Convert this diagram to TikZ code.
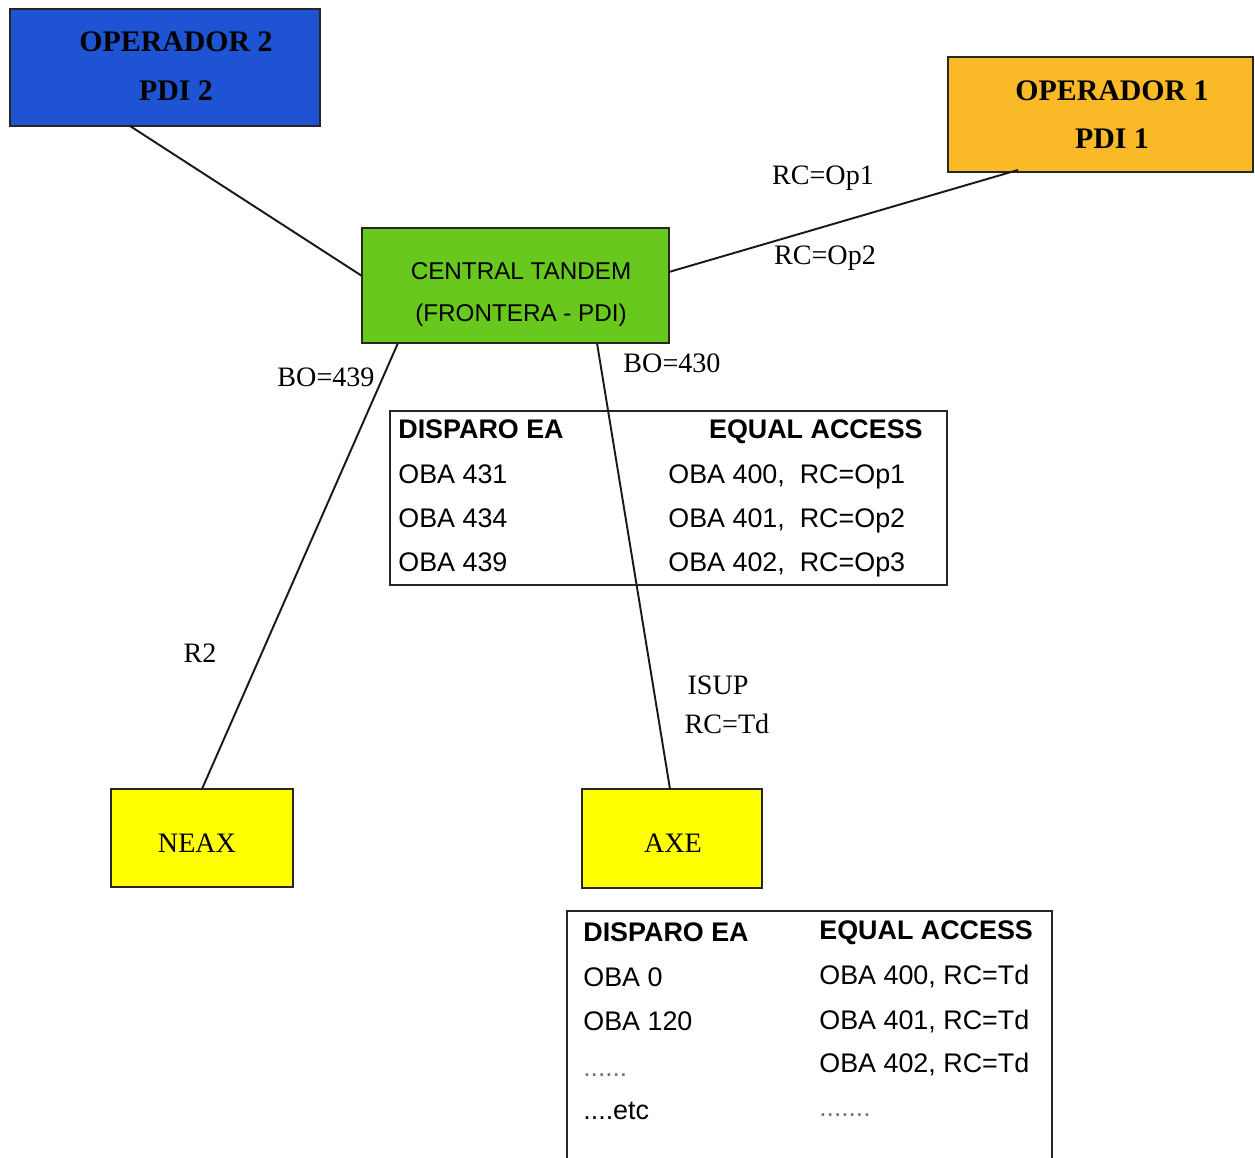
\documentclass[tikz,border=0pt]{standalone}
\usepackage{fontspec}
\setmainfont{Liberation Serif}
\setsansfont{Liberation Sans}
\definecolor{opblue}{RGB}{30,84,212}
\definecolor{oporange}{RGB}{250,186,40}
\definecolor{tgreen}{RGB}{104,200,30}
\definecolor{nyellow}{RGB}{255,255,0}
\begin{document}
\begin{tikzpicture}[x=0.02cm,y=-0.02cm,
  boxed/.style={draw=black!85,line width=1.4pt,inner sep=0pt},
  conn/.style={draw=black!90,line width=1.1pt},
  hdr/.style={font=\fontsize{17}{20}\selectfont\bfseries,anchor=base,inner sep=0pt},
  tnd/.style={font=\sffamily\fontsize{13.8}{16}\selectfont,anchor=base,inner sep=0pt},
  lbl/.style={font=\fontsize{16}{19}\selectfont,anchor=base,inner sep=0pt},
  cell/.style={font=\sffamily\fontsize{15.3}{18}\selectfont,anchor=base west,inner sep=0pt},
  cellb/.style={font=\sffamily\bfseries\fontsize{15.3}{18}\selectfont,anchor=base west,inner sep=0pt},
  dots/.style={font=\sffamily\fontsize{15}{18}\selectfont,text=black!55,anchor=base west,inner sep=0pt}]
\useasboundingbox (0,0) rectangle (1255,1158);
\fill[white] (0,0) rectangle (1255,1158);
% boxes
\node[boxed,fill=opblue,minimum width=310*0.02cm,minimum height=117*0.02cm] (op2) at (165,67.5) {};
\node[boxed,fill=oporange,minimum width=305*0.02cm,minimum height=115*0.02cm] (op1) at (1100.5,114.5) {};
\node[boxed,fill=tgreen,minimum width=307*0.02cm,minimum height=115*0.02cm] (tandem) at (515.5,285.5) {};
\node[boxed,fill=nyellow,minimum width=182*0.02cm,minimum height=98*0.02cm] (neax) at (202,838) {};
\node[boxed,fill=nyellow,minimum width=180*0.02cm,minimum height=99*0.02cm] (axe) at (672,838.5) {};
\node[boxed,minimum width=557*0.02cm,minimum height=174*0.02cm] (tab1) at (668.5,498) {};
\node[boxed,minimum width=485*0.02cm,minimum height=250*0.02cm] (tab2) at (809.5,1036) {};
% box texts
\node[hdr] (op2a) at (176,52) {OPERADOR 2};
\node[hdr] (op2b) at (176,101) {PDI 2};
\node[hdr] (op1a) at (1112,101) {OPERADOR 1};
\node[hdr] (op1b) at (1112,149) {PDI 1};
\node[tnd] (tda) at (521,280) {CENTRAL TANDEM};
\node[tnd] (tdb) at (521,322) {(FRONTERA - PDI)};
\node[lbl] (neaxt) at (197,852) {NEAX};
\node[lbl] (axet) at (673,852) {AXE};
% connectors
\coordinate (p2) at (130,126);
\coordinate (t2) at (362,276);
\coordinate (p1) at (1018,170);
\coordinate (t1) at (669,272);
\coordinate (tn) at (398,343);
\coordinate (nt) at (202,789);
\coordinate (ta) at (597,343);
\coordinate (at) at (670,789);
\draw[conn] (p2) -- (t2);
\draw[conn] (p1) -- (t1);
\draw[conn] (tn) -- (nt);
\draw[conn] (ta) -- (at);
% connector labels
\node[lbl] (l1) at (823,185) {RC=Op1};
\node[lbl] (l2) at (825,265) {RC=Op2};
\node[lbl] (l3) at (326,387) {BO=439};
\node[lbl] (l4) at (672,373) {BO=430};
\node[lbl] (l5) at (200,663) {R2};
\node[lbl] (l6) at (718,695) {ISUP};
\node[lbl] (l7) at (727,734) {RC=Td};
% table 1
\node[cellb] (a0) at (398,439) {DISPARO EA};
\node[cellb,anchor=base east] (a1) at (923,439) {EQUAL ACCESS};
\node[cell] (a2) at (398,484) {OBA 431};
\node[cell] (a3) at (398,528) {OBA 434};
\node[cell] (a4) at (398,572) {OBA 439};
\node[cell] (a5) at (668,484) {OBA 400,\ \ RC=Op1};
\node[cell] (a6) at (668,528) {OBA 401,\ \ RC=Op2};
\node[cell] (a7) at (668,572) {OBA 402,\ \ RC=Op3};
% table 2
\node[cellb] (b0) at (583,941) {DISPARO EA};
\node[cellb] (b1) at (819,939) {EQUAL ACCESS};
\node[cell] (b2) at (583,986) {OBA 0};
\node[cell] (b3) at (583,1030) {OBA 120};
\node[dots] (b4) at (583,1076) {......};
\node[cell] (b5) at (583,1119) {....etc};
\node[cell] (b6) at (819,984) {OBA 400, RC=Td};
\node[cell] (b7) at (819,1029) {OBA 401, RC=Td};
\node[cell] (b8) at (819,1072) {OBA 402, RC=Td};
\node[dots] (b9) at (819,1116) {.......};
\end{tikzpicture}
\end{document}
